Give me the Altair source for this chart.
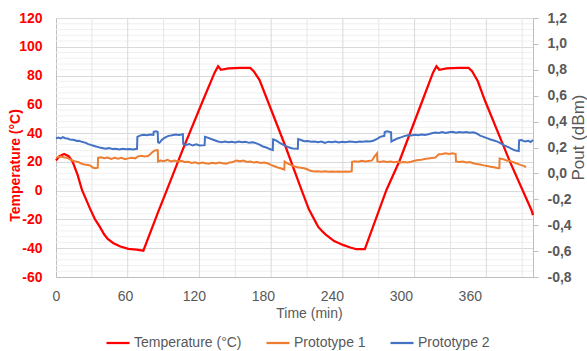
import altair as alt
import pandas as pd

SERIES = ["Temperature (°C)", "Prototype 1", "Prototype 2"]
COLORS = ["#FF0000", "#ED7D31", "#4472C4"]

# Temperature (°C) vs time (min)
temp_time = [0, 3, 7, 11, 14.5, 18.8, 22.6, 29.6, 34, 38,
             42, 45, 50, 56, 63, 70, 76, 89, 96.5, 110,
             128, 138, 141, 143.5, 150, 160, 169, 172, 177, 190,
             200, 213.6, 220, 228, 232, 235, 242, 249.6, 256, 261.5,
             268.7, 287.5, 299, 319, 328, 331, 333.5, 340, 350, 359,
             362, 367, 373, 395, 413.6, 415]
temp_c = [21, 24, 25.5, 24, 20, 11, 0.5, -12.5, -20, -25,
          -30.5, -33.6, -36.5, -38.8, -40.5, -41, -41.7, -14.5, 0.5, 28,
          63, 82, 86.5, 84, 85, 85.3, 85.3, 83, 77, 50.5,
          30, 0.5, -13, -25, -28.5, -30.8, -35, -37.7, -39.5, -40.7,
          -40.7, 0.5, 21, 63, 82, 86.5, 84, 85, 85.3, 85.3,
          83, 76, 63, 20, -13.4, -17]

# Prototype 1 Pout (dBm)
p1_time = [0, 2, 4, 6, 8, 10, 12, 14, 16, 18,
           20, 22, 24, 26, 28, 30, 32, 34, 36.3, 36.6,
           39, 42, 45, 48, 51, 54, 57, 60, 63, 66,
           69, 71, 74, 77, 80, 82, 84, 86, 88.5, 88.8,
           91, 94, 97, 100, 103, 106, 109, 112, 115, 118,
           121, 124, 127, 130, 133, 136, 139, 142, 145, 148,
           151, 154, 157, 160, 163, 166, 169, 172, 175, 178,
           181, 184, 187, 190, 193, 196, 198.6, 198.9, 201, 204,
           207, 210, 213, 216, 219, 222, 225, 228, 231, 234,
           237, 240, 243, 246, 249, 252, 255, 257.3, 257.6, 260,
           263, 266, 269, 272, 275, 277, 279.3, 279.6, 282, 285,
           288, 291, 294, 297, 300, 303, 306, 309, 312, 315,
           318, 321, 324, 327, 330, 333, 336, 339, 342, 345,
           347.7, 348, 351, 354, 357, 360, 363, 366, 369, 372,
           375, 378, 381, 384, 385.7, 386, 389, 392, 395, 398,
           401, 404, 407, 409]
p1_pout = [0.120, 0.126, 0.130, 0.126, 0.122, 0.118, 0.110, 0.100, 0.095, 0.090,
           0.086, 0.076, 0.070, 0.066, 0.064, 0.060, 0.045, 0.040, 0.044, 0.120,
           0.125, 0.118, 0.122, 0.112, 0.120, 0.114, 0.120, 0.110, 0.116, 0.120,
           0.116, 0.130, 0.136, 0.130, 0.134, 0.148, 0.165, 0.178, 0.180, 0.092,
           0.100, 0.094, 0.104, 0.092, 0.100, 0.092, 0.098, 0.088, 0.090, 0.080,
           0.086, 0.076, 0.084, 0.078, 0.074, 0.082, 0.076, 0.084, 0.078, 0.074,
           0.084, 0.088, 0.100, 0.094, 0.100, 0.088, 0.092, 0.085, 0.088, 0.080,
           0.084, 0.078, 0.066, 0.055, 0.046, 0.038, 0.030, 0.092, 0.080, 0.066,
           0.055, 0.048, 0.044, 0.040, 0.030, 0.018, 0.014, 0.016, 0.013, 0.016,
           0.012, 0.014, 0.013, 0.015, 0.012, 0.014, 0.013, 0.016, 0.090, 0.094,
           0.090, 0.098, 0.092, 0.096, 0.100, 0.130, 0.155, 0.092, 0.088, 0.094,
           0.088, 0.092, 0.086, 0.090, 0.085, 0.088, 0.084, 0.090, 0.098, 0.104,
           0.106, 0.112, 0.116, 0.118, 0.122, 0.148, 0.150, 0.155, 0.150, 0.155,
           0.150, 0.092, 0.088, 0.092, 0.084, 0.088, 0.078, 0.072, 0.068, 0.062,
           0.058, 0.052, 0.048, 0.042, 0.040, 0.116, 0.110, 0.100, 0.096, 0.086,
           0.076, 0.066, 0.058, 0.048]

# Prototype 2 Pout (dBm)
p2_time = [0, 2, 4, 6, 8, 10, 12, 14, 16, 18,
           20, 22, 24, 26, 28, 30, 32, 34, 36, 38,
           40, 43, 46, 49, 52, 55, 58, 61, 64, 67,
           70.5, 70.8, 73, 76, 79, 82, 84.7, 85, 87, 88.5,
           88.8, 90, 92, 94, 96, 98, 101, 104, 107, 110.4,
           110.7, 113, 116, 119, 122, 125, 129.3, 129.6, 132, 135,
           138, 141, 144, 147, 150, 153, 156, 159, 162, 165,
           168, 171, 174, 177, 180, 183, 186, 188.6, 188.9, 191,
           194, 197, 200, 203, 206, 210.4, 210.7, 213, 216, 219,
           222, 225, 228, 231, 234, 237, 240, 243, 246, 249,
           252, 255, 258, 261, 264, 267, 270, 273, 276, 279,
           282, 285.7, 286, 288, 291.5, 291.8, 294, 297, 300, 303,
           306, 309, 312, 315, 318, 321, 324, 327, 330, 333,
           336, 339, 342, 345, 348, 351, 354, 357, 360, 363,
           366, 369, 372, 375, 378, 381, 384, 387, 390, 393,
           396, 399, 402.6, 402.9, 405, 408, 411, 413, 415]
p2_pout = [0.270, 0.276, 0.270, 0.280, 0.272, 0.270, 0.262, 0.260, 0.258, 0.250,
           0.252, 0.245, 0.240, 0.236, 0.226, 0.222, 0.215, 0.210, 0.205, 0.200,
           0.196, 0.190, 0.195, 0.188, 0.191, 0.185, 0.190, 0.186, 0.189, 0.185,
           0.190, 0.282, 0.292, 0.298, 0.295, 0.300, 0.298, 0.322, 0.326, 0.320,
           0.240, 0.236, 0.258, 0.272, 0.282, 0.290, 0.294, 0.300, 0.297, 0.302,
           0.228, 0.220, 0.226, 0.215, 0.224, 0.215, 0.218, 0.282, 0.276, 0.266,
           0.256, 0.246, 0.240, 0.246, 0.240, 0.245, 0.238, 0.246, 0.240, 0.244,
           0.236, 0.240, 0.234, 0.222, 0.208, 0.200, 0.188, 0.180, 0.262, 0.256,
           0.240, 0.225, 0.210, 0.200, 0.193, 0.190, 0.265, 0.258, 0.248, 0.250,
           0.244, 0.246, 0.240, 0.246, 0.236, 0.245, 0.240, 0.246, 0.238, 0.245,
           0.240, 0.246, 0.244, 0.240, 0.247, 0.244, 0.248, 0.246, 0.252, 0.265,
           0.282, 0.290, 0.320, 0.326, 0.318, 0.245, 0.256, 0.270, 0.278, 0.288,
           0.294, 0.292, 0.298, 0.295, 0.300, 0.296, 0.302, 0.310, 0.316, 0.312,
           0.320, 0.312, 0.318, 0.322, 0.315, 0.320, 0.316, 0.320, 0.314, 0.318,
           0.308, 0.292, 0.282, 0.272, 0.262, 0.254, 0.245, 0.232, 0.216, 0.205,
           0.192, 0.178, 0.172, 0.255, 0.258, 0.246, 0.252, 0.242, 0.258]

x_ticks = [0, 60, 120, 180, 240, 300, 360]
temp_ticks = [-60, -40, -20, 0, 20, 40, 60, 80, 100, 120]
pout_ticks = [-0.8, -0.6, -0.4, -0.2, 0.0, 0.2, 0.4, 0.6, 0.8, 1.0, 1.2]
temp_minor_grid = [v for v in range(-56, 120, 4) if v % 20 != 0]
time_grid_major = [62.4, 124.8, 187.2, 249.6, 312.0, 374.4]
time_grid_minor = [31.2, 93.6, 156.0, 218.4, 280.8, 343.2, 405.6]

FONT = "Liberation Sans"
GREY = "#595959"
AXIS_LINE = "#BFBFBF"

df_temp = pd.DataFrame({"t": temp_time, "v": temp_c, "s": SERIES[0]})
df_pout = pd.concat([
    pd.DataFrame({"t": p1_time, "v": p1_pout, "s": SERIES[1]}),
    pd.DataFrame({"t": p2_time, "v": p2_pout, "s": SERIES[2]}),
])

x_enc = alt.X(
    "t:Q",
    scale=alt.Scale(domain=[0, 415], nice=False, zero=False),
    axis=alt.Axis(
        values=x_ticks, grid=False, ticks=False, tickSize=0,
        domainColor=AXIS_LINE, labelColor=GREY, labelFont=FONT,
        labelFontSize=14, labelPadding=12, labelFlush=False,
        title="Time (min)", titleFont=FONT, titleFontSize=14,
        titleFontWeight="normal", titleColor=GREY,
        titleX=253, titleY=36, titleAlign="center", titleBaseline="middle",
    ),
)

y_left = alt.Y(
    "v:Q",
    scale=alt.Scale(domain=[-60, 120], nice=False, zero=False),
    axis=alt.Axis(
        values=temp_ticks, grid=True, gridColor="#D9D9D9",
        ticks=False, tickSize=0, domainColor=AXIS_LINE,
        labelColor="#FF0000", labelFontWeight="bold", labelFontSize=14,
        labelFont=FONT, labelPadding=14, labelFlush=False,
        labelExpr="'' + datum.value",
        title="Temperature (°C)", titleColor="#FF0000", titleFontWeight="bold",
        titleFontSize=14, titleFont=FONT, titleAngle=270,
        titleX=-41, titleY=147, titleAlign="center", titleBaseline="middle",
    ),
)

y_right = alt.Y(
    "v:Q",
    scale=alt.Scale(domain=[-0.8, 1.2], nice=False, zero=False),
    axis=alt.Axis(
        orient="right", values=pout_ticks, grid=False,
        ticks=True, tickSize=5, tickColor=AXIS_LINE, domainColor=AXIS_LINE,
        labelColor=GREY, labelFontWeight="bold", labelFontSize=14,
        labelFont=FONT, labelPadding=9, labelFlush=False,
        labelExpr="replace(replace(format(datum.value, '.1f'), '.', ','), '\u2212', '-')",
        title="Pout (dBm)", titleColor=GREY, titleFontWeight="normal",
        titleFontSize=17, titleFont=FONT, titleAngle=270,
        titleX=45, titleY=119, titleAlign="center", titleBaseline="middle",
    ),
)

color_enc = alt.Color(
    "s:N",
    scale=alt.Scale(domain=SERIES, range=COLORS),
    legend=alt.Legend(
        title=None, orient="none", legendX=49, legendY=312,
        direction="horizontal", symbolType="stroke", symbolSize=530,
        symbolStrokeWidth=2.25, labelFont=FONT, labelFontSize=14,
        labelColor=GREY, labelOffset=3, columnPadding=19, padding=0,
    ),
)

h_minor = alt.Chart(pd.DataFrame({"v": temp_minor_grid})).mark_rule(
    color="#F0F0F0", strokeWidth=1).encode(y=y_left)
v_minor = alt.Chart(pd.DataFrame({"t": time_grid_minor})).mark_rule(
    color="#E6E6E6", strokeWidth=1).encode(x=x_enc)
v_major = alt.Chart(pd.DataFrame({"t": time_grid_major})).mark_rule(
    color="#D9D9D9", strokeWidth=1).encode(x=x_enc)

temp_line = alt.Chart(df_temp).mark_line(strokeWidth=2.25).encode(
    x=x_enc, y=y_left, color=color_enc)

left = alt.layer(h_minor, v_minor, v_major, temp_line)

pout_lines = alt.Chart(df_pout).mark_line(strokeWidth=2).encode(
    x=x_enc, y=y_right, color=color_enc)

chart = alt.layer(left, pout_lines).resolve_scale(y="independent").properties(
    width=477, height=259,
    padding={"left": 56, "top": 18, "right": 54, "bottom": 74},
    autosize=alt.AutoSizeParams(type="none"),
).configure_view(stroke=None)

chart.save("out.html", embed_options={"renderer": "svg", "actions": False})
